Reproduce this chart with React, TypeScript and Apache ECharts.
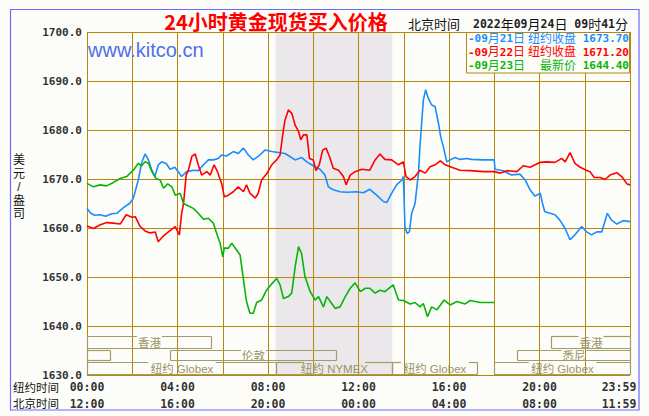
import React, { useEffect, useRef } from 'react';
import * as echarts from 'echarts';

// ---------- data ----------
const nyTickLabels = ['00:00', '04:00', '08:00', '12:00', '16:00', '20:00', '23:59'];
const bjTickLabels = ['12:00', '16:00', '20:00', '00:00', '04:00', '08:00', '11:59'];

// [minutes since 00:00 New York time, price]
const sep21: number[][] = [
  [0, 1664.0], [10, 1663.0], [20, 1662.6], [34, 1662.7], [50, 1662.4], [65, 1662.9], [79, 1663.0], [96, 1664.1],
  [114, 1665.1], [123, 1666.1], [136, 1669.8], [145, 1673.3], [154, 1675.1], [163, 1673.9], [172, 1671.8], [180, 1670.5],
  [189, 1672.9], [198, 1673.5], [211, 1673.1], [220, 1672.0], [233, 1672.4], [242, 1671.5], [251, 1670.5], [264, 1671.5],
  [282, 1671.8], [295, 1671.7], [309, 1672.9], [322, 1673.9], [335, 1673.9], [348, 1674.2], [357, 1674.9], [370, 1674.7],
  [388, 1675.6], [401, 1675.2], [415, 1676.3], [428, 1674.9], [441, 1673.9], [454, 1674.6], [472, 1675.9], [490, 1675.6],
  [507, 1675.4], [525, 1675.2], [538, 1674.6], [552, 1673.9], [569, 1674.4], [583, 1673.5], [600, 1672.7], [618, 1672.0],
  [631, 1670.8], [640, 1668.4], [653, 1667.8], [671, 1667.4], [689, 1667.3], [715, 1667.4], [733, 1667.2], [750, 1667.9],
  [768, 1666.7], [786, 1665.4], [795, 1665.2], [808, 1667.1], [821, 1668.8], [835, 1669.8], [839, 1670.5], [842, 1663.3],
  [843, 1660.3], [849, 1658.9], [855, 1659.2], [861, 1663.0], [870, 1665.0], [879, 1671.2], [883, 1676.6], [888, 1682.0],
  [892, 1686.1], [898, 1688.2], [905, 1686.5], [914, 1685.1], [923, 1684.8], [932, 1681.4], [938, 1678.6], [945, 1676.6],
  [954, 1673.5], [963, 1673.9], [976, 1674.4], [989, 1674.0], [1007, 1674.2], [1020, 1674.0], [1050, 1673.9], [1080, 1673.9],
  [1082, 1672.0], [1104, 1671.7], [1126, 1670.8], [1148, 1671.0], [1162, 1669.8], [1175, 1667.8], [1188, 1666.5], [1202, 1667.1],
  [1208, 1665.0], [1214, 1663.3], [1228, 1663.0], [1241, 1662.7], [1254, 1661.6], [1268, 1659.9], [1281, 1657.6], [1294, 1658.6],
  [1312, 1660.3], [1325, 1659.2], [1338, 1658.6], [1352, 1659.2], [1365, 1659.2], [1380, 1663.0], [1391, 1661.6], [1405, 1660.8],
  [1422, 1661.5], [1440, 1661.3],
];

const sep22: number[][] = [
  [0, 1660.4], [17, 1659.9], [34, 1660.6], [52, 1661.1], [70, 1661.0], [88, 1660.8], [104, 1662.7], [119, 1662.2],
  [128, 1662.3], [141, 1660.3], [154, 1659.4], [167, 1659.0], [181, 1659.2], [189, 1657.2], [203, 1658.4], [216, 1659.2],
  [234, 1660.3], [245, 1658.6], [251, 1663.0], [256, 1665.0], [263, 1670.8], [269, 1671.8], [278, 1674.6], [287, 1675.1],
  [295, 1672.9], [304, 1670.8], [318, 1671.5], [327, 1670.8], [337, 1672.9], [346, 1671.5], [357, 1669.1], [364, 1666.4],
  [375, 1666.7], [388, 1667.4], [401, 1668.4], [415, 1667.4], [423, 1668.8], [432, 1667.1], [446, 1666.1], [454, 1667.1],
  [463, 1669.8], [476, 1671.0], [490, 1672.9], [503, 1673.9], [512, 1674.9], [519, 1679.0], [525, 1682.0], [534, 1684.1],
  [543, 1683.4], [552, 1681.0], [561, 1679.7], [567, 1678.0], [574, 1679.0], [583, 1679.0], [590, 1674.2], [600, 1673.9],
  [607, 1671.7], [616, 1672.9], [625, 1675.9], [634, 1676.3], [643, 1674.6], [653, 1672.2], [667, 1671.8], [680, 1670.5],
  [687, 1668.8], [698, 1670.8], [711, 1671.5], [729, 1672.0], [750, 1671.8], [764, 1673.9], [777, 1675.1], [790, 1674.0],
  [808, 1673.9], [826, 1672.9], [839, 1673.5], [846, 1670.5], [857, 1669.8], [870, 1670.5], [883, 1671.8], [897, 1671.2],
  [910, 1672.5], [923, 1672.9], [937, 1673.7], [950, 1672.9], [967, 1672.4], [989, 1671.8], [1016, 1671.7], [1052, 1671.5],
  [1080, 1671.5], [1096, 1671.2], [1114, 1671.7], [1140, 1671.5], [1157, 1672.7], [1175, 1672.4], [1202, 1673.4], [1219, 1673.5],
  [1241, 1673.4], [1259, 1674.2], [1268, 1673.5], [1281, 1675.4], [1294, 1673.2], [1308, 1672.4], [1324, 1671.8], [1334, 1671.5],
  [1345, 1670.3], [1361, 1670.3], [1374, 1669.9], [1387, 1670.8], [1405, 1671.3], [1418, 1670.5], [1432, 1669.0], [1440, 1668.8],
];

const sep23: number[][] = [
  [0, 1669.1], [17, 1668.4], [34, 1668.8], [52, 1668.6], [70, 1669.3], [88, 1670.1], [105, 1670.5], [123, 1671.8],
  [136, 1673.2], [145, 1672.7], [154, 1673.5], [163, 1673.2], [172, 1671.5], [183, 1670.1], [194, 1669.8], [203, 1668.1],
  [214, 1669.0], [225, 1668.4], [234, 1666.7], [247, 1667.1], [256, 1665.0], [269, 1664.5], [282, 1664.0], [295, 1663.0],
  [309, 1661.8], [322, 1662.0], [335, 1661.0], [344, 1658.9], [353, 1656.9], [360, 1654.1], [364, 1655.9], [375, 1655.9],
  [384, 1656.9], [393, 1655.9], [406, 1654.5], [415, 1649.4], [423, 1645.0], [432, 1642.6], [441, 1642.6], [450, 1644.8],
  [463, 1645.3], [476, 1647.3], [490, 1648.6], [503, 1649.7], [512, 1648.4], [521, 1645.6], [534, 1646.0], [543, 1646.7],
  [552, 1652.1], [561, 1656.2], [569, 1654.8], [578, 1650.1], [592, 1647.0], [605, 1645.3], [614, 1646.0], [627, 1643.9],
  [636, 1646.0], [649, 1644.6], [658, 1643.6], [671, 1643.9], [685, 1646.0], [698, 1647.7], [711, 1648.8], [725, 1647.0],
  [738, 1647.7], [750, 1647.7], [764, 1646.7], [777, 1647.3], [790, 1647.0], [812, 1648.4], [826, 1645.3], [839, 1645.2],
  [857, 1644.5], [870, 1644.8], [883, 1643.9], [892, 1644.6], [903, 1641.9], [914, 1643.9], [928, 1643.3], [947, 1645.3],
  [963, 1644.3], [981, 1645.0], [1003, 1644.5], [1016, 1645.2], [1043, 1644.8], [1080, 1644.8],
];

const legendDates = ['09月21日', '09月22日', '09月23日'];
const legendLabels = ['纽约收盘', '纽约收盘', '最新价'];
const legendValues = ['1673.70', '1671.20', '1644.40'];

// trading sessions (minutes, New York time); row 0 = top row
const sessionNames = ['香港', '', '伦敦', '纽约 Globex', '纽约 NYMEX', '纽约 Globex', '纽约 Globex', '悉尼', '香港'];
const sessionStarts = [0, 0, 220, 0, 500, 810, 1080, 1140, 1230];
const sessionEnds = [330, 60, 660, 500, 810, 1035, 1440, 1440, 1440];
const sessionRows = [0, 1, 1, 2, 2, 2, 2, 1, 0];
const nymexWindow = [500, 810];

const titleText = '24小时黄金现货买入价格';
const headerLabel = '北京时间';
const headerTime = '2022年09月24日 09时41分';
const yAxisName = '美元/盎司';
const rowNames = ['纽约时间', '北京时间'];
const watermark = 'www.kitco.cn';

// ---------- styles ----------
const BG = '#fcfdf9';
const GOLD = '#b8860b';
const SHADE = '#ebe8ec';
const OLIVE = '#a39c6a';
const OLIVE_TEXT = '#9a9364';
const COLORS = ['#1a8cff', '#ff0000', '#08b408'];
const MONO = '"DejaVu Sans Mono", monospace';
const CJK = '"Noto Sans CJK SC", sans-serif';
const CJK_TIGHT = '"Liberation Sans", "Noto Sans CJK SC", sans-serif';
const ROW_TOPS = [1637.9, 1635.15, 1632.6];
const ROW_BOTS = [1635.35, 1632.8, 1630];

function toRich(s: string, d: string, c: string) {
  const parts = s.match(/[\x00-\x7f]+|[^\x00-\x7f]+/g) || [];
  return parts.map((p) => (/^[\x00-\x7f]+$/.test(p) ? `{${d}|${p}}` : `{${c}|${p}}`)).join('');
}

function textWidth(s: string) {
  let w = 0;
  for (const ch of s) w += /[^\x00-\x7f]/.test(ch) ? 11.5 : ch === ' ' ? 3 : 6.6;
  return w;
}

export default function App() {
  const ref = useRef<HTMLDivElement>(null);

  useEffect(() => {
    if (!ref.current) return;
    const chart = echarts.init(ref.current, undefined, { renderer: 'svg' });

    const axisFont = { color: '#333', fontFamily: MONO, fontWeight: 'bold' as const, fontSize: 11.5 };
    const yFont = { ...axisFont, fontSize: 11 };

    const fmt = (labels: string[]) => (v: number) => {
      if (v % 240 !== 0) return '';
      const i = v / 240;
      if (i === labels.length - 1) return `{last|${labels[i]}}`;
      return labels[i];
    };

    const legendGraphics: any[] = [];
    legendDates.forEach((d, i) => {
      const y = 38.5 + i * 13.5;
      const rich = {
        d: { fill: COLORS[i], fontFamily: MONO, fontWeight: 'bold', fontSize: 11, lineHeight: 12 },
        c: { fill: COLORS[i], fontFamily: CJK_TIGHT, fontSize: 12, lineHeight: 12 },
      };
      legendGraphics.push({
        type: 'text', z: 11,
        x: 468, y,
        style: { text: toRich('-' + d, 'd', 'c'), rich, align: 'left', verticalAlign: 'middle', lineHeight: 12 },
      });
      legendGraphics.push({
        type: 'text', z: 11,
        x: 629, y,
        style: { text: `{c|${legendLabels[i]}}{d| ${legendValues[i]}}`, rich, align: 'right', verticalAlign: 'middle', lineHeight: 12 },
      });
    });

    const option: any = {
      animation: false,
      backgroundColor: BG,
      grid: { left: 87, top: 32, width: 543, height: 343 },
      xAxis: [
        {
          type: 'value', min: 0, max: 1440, interval: 120, position: 'bottom', z: 3,
          axisLine: { show: false }, axisTick: { show: false },
          splitLine: { show: true, lineStyle: { color: GOLD, width: 1 } },
          axisLabel: {
            ...axisFont, margin: 6, showMinLabel: true, showMaxLabel: true,
            formatter: fmt(nyTickLabels),
            rich: { last: { ...axisFont, padding: [0, 22, 0, 0] } },
          },
        },
        {
          type: 'value', min: 0, max: 1440, interval: 120, position: 'bottom', offset: 17, z: 3,
          axisLine: { show: false }, axisTick: { show: false }, splitLine: { show: false },
          axisLabel: {
            ...axisFont, margin: 6, showMinLabel: true, showMaxLabel: true,
            formatter: fmt(bjTickLabels),
            rich: { last: { ...axisFont, padding: [0, 22, 0, 0] } },
          },
        },
      ],
      yAxis: {
        type: 'value', min: 1630, max: 1700, interval: 10, z: 3,
        axisLine: { show: false }, axisTick: { show: false },
        splitLine: { show: true, lineStyle: { color: GOLD, width: 1 } },
        axisLabel: { ...yFont, margin: 5, formatter: (v: number) => v.toFixed(1) },
      },
      series: [
        {
          type: 'custom', z: 1, silent: true,
          data: [[nymexWindow[0], nymexWindow[1]]],
          renderItem: (_p: any, api: any) => {
            const a = api.coord([api.value(0), 1700]);
            const b = api.coord([api.value(1), 1630]);
            return {
              type: 'group',
              children: [
                { type: 'rect', shape: { x: a[0], y: a[1], width: b[0] - a[0], height: b[1] - a[1] }, style: { fill: SHADE } },
                { type: 'line', shape: { x1: b[0] + 0.5, y1: a[1], x2: b[0] + 0.5, y2: b[1] }, style: { stroke: '#ffffff', lineWidth: 1, lineDash: [1, 1] } },
              ],
            };
          },
        },
        {
          type: 'custom', z: 4, silent: true,
          data: sessionStarts.map((s, i) => [s, sessionEnds[i], sessionRows[i], i]),
          renderItem: (_p: any, api: any) => {
            const s = api.value(0), e = api.value(1), row = api.value(2), idx = api.value(3);
            const p0 = api.coord([s, ROW_TOPS[row]]);
            const p1 = api.coord([e, ROW_BOTS[row]]);
            const x0 = Math.round(p0[0]) + 0.5, x1 = Math.round(p1[0]) + 0.5;
            const y0 = Math.round(p0[1]) + 0.5, y1 = Math.round(p1[1]) - 0.5;
            const ls = { stroke: OLIVE, lineWidth: 1.2 };
            const name = sessionNames[idx];
            const children: any[] = [];
            if (name) {
              const w = textWidth(name);
              const cx = (x0 + x1) / 2;
              children.push({ type: 'line', shape: { x1: x0, y1: y0, x2: cx - w / 2 - 1, y2: y0 }, style: ls });
              children.push({ type: 'line', shape: { x1: cx + w / 2 + 1, y1: y0, x2: x1, y2: y0 }, style: ls });
              children.push({
                type: 'text',
                style: { text: name, x: cx, y: (y0 + y1) / 2 + 0.5, align: 'center', verticalAlign: 'middle', fill: OLIVE_TEXT, fontFamily: CJK_TIGHT, fontSize: 11.5 },
              });
            } else {
              children.push({ type: 'line', shape: { x1: x0, y1: y0, x2: x1, y2: y0 }, style: ls });
            }
            children.push({ type: 'line', shape: { x1: x0, y1: y1, x2: x1, y2: y1 }, style: ls });
            children.push({ type: 'line', shape: { x1: x0, y1: y0, x2: x0, y2: y1 }, style: ls });
            children.push({ type: 'line', shape: { x1: x1, y1: y0, x2: x1, y2: y1 }, style: ls });
            return { type: 'group', children };
          },
        },
        ...[sep21, sep22, sep23].map((d, i) => ({
          type: 'line', z: 5, data: d, showSymbol: false, silent: true,
          lineStyle: { color: COLORS[i], width: 1.6 }, itemStyle: { color: COLORS[i] },
        })),
      ],
      graphic: [
        { type: 'rect', z: 0, shape: { x: 10.5, y: 9.5, width: 628.5, height: 400.5 }, style: { fill: 'none', stroke: '#6b6bff', lineWidth: 1.2 } },
        {
          type: 'text', z: 10, x: 276, y: 21,
          style: { text: titleText, align: 'center', verticalAlign: 'middle', fill: '#ff0000', fontFamily: CJK, fontWeight: 'bold', fontSize: 20 },
        },
        {
          type: 'text', z: 10, x: 408, y: 24,
          style: { text: headerLabel, align: 'left', verticalAlign: 'middle', fill: '#111', fontFamily: CJK_TIGHT, fontSize: 13 },
        },
        {
          type: 'text', z: 10, x: 473, y: 24,
          style: {
            text: toRich(headerTime, 'd', 'c'), align: 'left', verticalAlign: 'middle',
            rich: {
              d: { fill: '#222', fontFamily: MONO, fontWeight: 'bold', fontSize: 11.5 },
              c: { fill: '#111', fontFamily: CJK_TIGHT, fontSize: 13 },
            },
          },
        },
        {
          type: 'text', z: 10, x: 88, y: 50,
          style: { text: watermark, align: 'left', verticalAlign: 'middle', fill: '#4f6fe8', fontFamily: '"Liberation Sans", Arial, sans-serif', fontSize: 20 },
        },
        ...yAxisName.split('').map((ch, i) => ({
          type: 'text', z: 10, x: 19, y: 160 + i * 13.5,
          style: { text: ch, align: 'center', verticalAlign: 'middle', lineHeight: 12, fill: '#111', fontFamily: CJK_TIGHT, fontSize: 12 },
        })),
        ...rowNames.map((n, i) => ({
          type: 'text', z: 10, x: 13, y: 387.5 + i * 16.5,
          style: { text: n, align: 'left', verticalAlign: 'middle', fill: '#111', fontFamily: CJK_TIGHT, fontSize: 11.5 },
        })),
        { type: 'rect', z: 10, shape: { x: 466.5, y: 32.5, width: 163, height: 40.5 }, style: { fill: BG, stroke: GOLD, lineWidth: 1 } },
        ...legendGraphics,
      ],
    };

    chart.setOption(option);
    return () => chart.dispose();
  }, []);

  return <div ref={ref} style={{ position: 'fixed', left: 0, top: 0, width: 649, height: 416 }} />;
}
